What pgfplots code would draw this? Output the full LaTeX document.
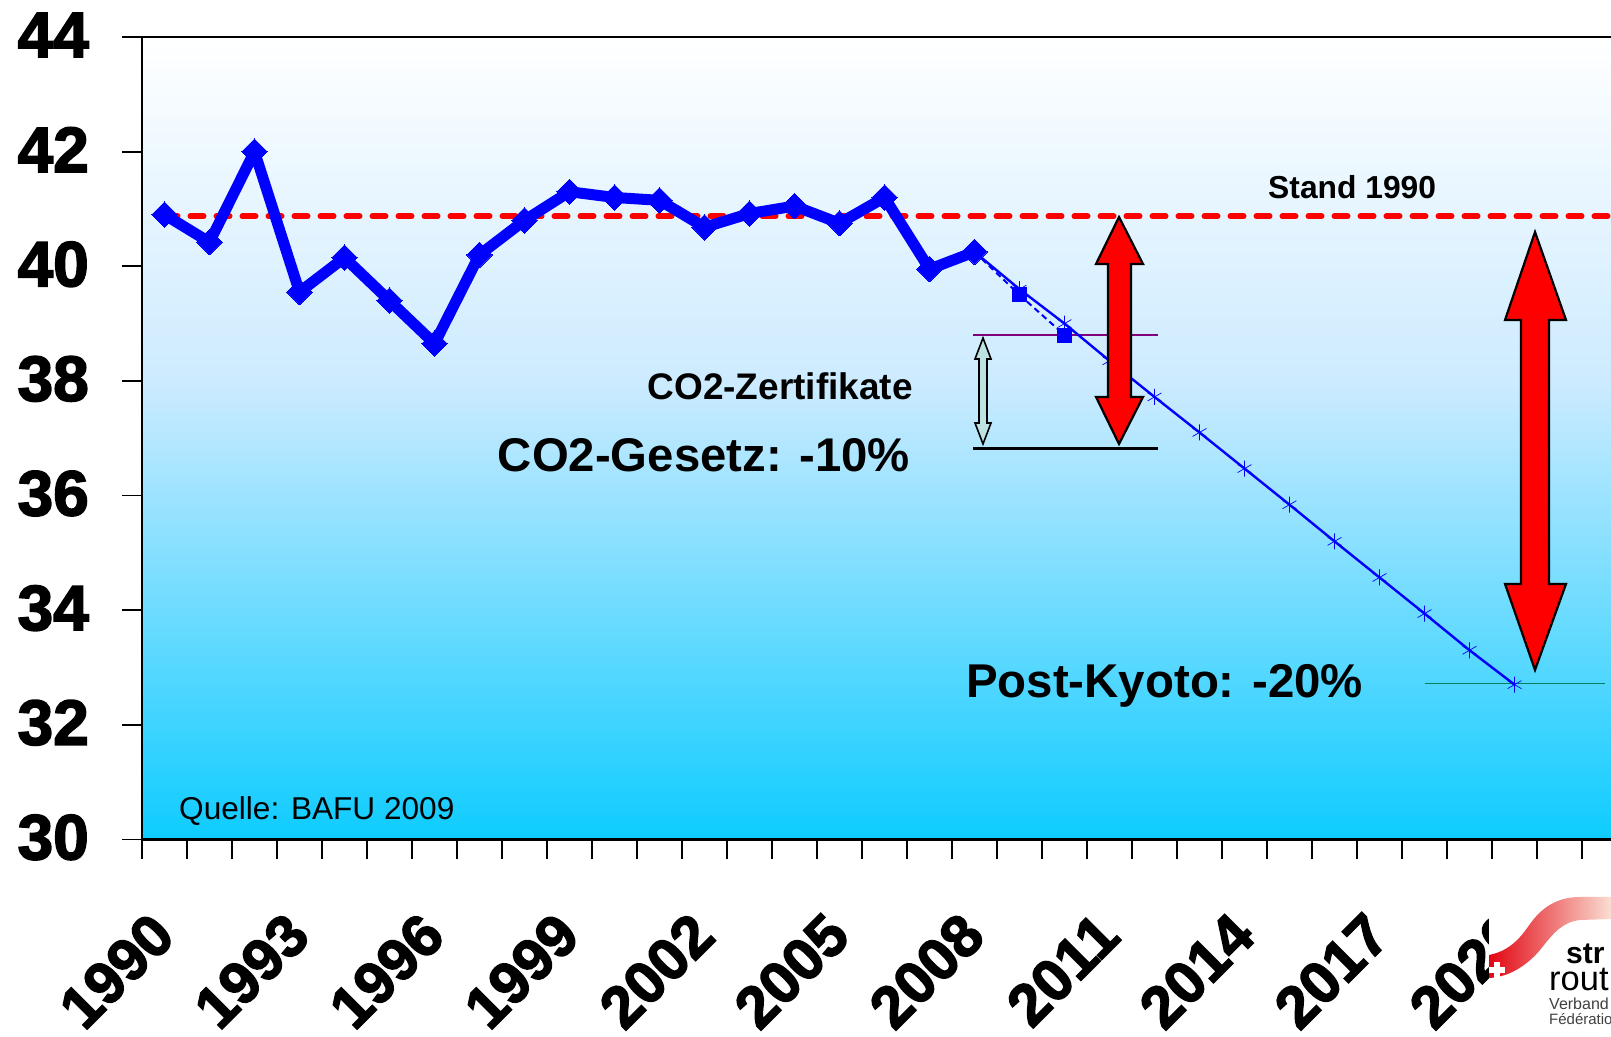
\documentclass[border=0pt]{standalone}
\usepackage{pgfplots}
\pgfplotsset{compat=1.18}
\usepackage{fontspec}
\setmainfont{Liberation Sans}
\newfontfamily\heavy[BoldFeatures={FakeBold=2.5}]{Liberation Sans}
\definecolor{barblue}{RGB}{0,0,255}
\definecolor{bottomcyan}{RGB}{14,204,255}
\definecolor{midblue}{RGB}{205,235,255}
\definecolor{arrowpale}{RGB}{190,225,225}
\definecolor{swoosh}{RGB}{226,6,19}
\definecolor{swooshend}{RGB}{250,222,210}
\definecolor{kyotogreen}{RGB}{0,128,90}
\definecolor{certpurple}{RGB}{128,0,128}
\pgfdeclareverticalshading{skygrad}{100bp}{color(0bp)=(bottomcyan); color(25bp)=(bottomcyan); color(53.6bp)=(midblue); color(75bp)=(white); color(100bp)=(white)}
\begin{document}
\begin{tikzpicture}[x=1pt,y=1pt]
\useasboundingbox (0,0) rectangle (1611,1036);
\clip (0,0) rectangle (1611,1036);
\begin{axis}[
  at={(142pt,196.6pt)}, anchor=south west,
  scale only axis, width=1530pt, height=802.4pt,
  xmin=1989.5, xmax=2023.5, ymin=30, ymax=44,
  axis background/.style={shading=skygrad},
  axis line style={black, line width=2.6pt},
  xtick={1990,1993,1996,1999,2002,2005,2008,2011,2014,2017,2020},
  minor xtick={1989.5,1990.5,...,2023.5},
  ytick={30,32,...,44},
  tick pos=left,
  tick align=outside,
  major tick length=20pt, minor tick length=20pt,
  major x tick style={draw=none},
  tick style={black, line width=1.8pt},
  /pgf/number format/1000 sep={},
  /pgf/number format/assume math mode=true,
  yticklabel style={font=\fontsize{64}{64}\selectfont\heavy\bfseries, inner sep=0pt, xshift=-33pt, yshift=2pt},
  xticklabel style={font=\fontsize{59}{59}\selectfont\heavy\bfseries, inner sep=0pt, rotate=45, anchor=east, xshift=-47pt, yshift=-45pt},
]
\addplot[red, line width=6pt, dash pattern=on 13pt off 13pt, line cap=round, forget plot] coordinates {(1990,40.87) (2023.5,40.87)};
\addplot[certpurple, line width=2.8pt, forget plot] coordinates {(2007.97,38.8) (2012.07,38.8)};
\addplot[black, line width=2.8pt, forget plot] coordinates {(2007.97,36.82) (2012.07,36.82)};
\addplot[kyotogreen, line width=1.4pt, forget plot] coordinates {(2018,32.72) (2022,32.72)};
\addplot[barblue, line width=2pt, dash pattern=on 6pt off 4pt, mark=square*, mark size=6.5pt, mark options={solid}, forget plot] coordinates {
(2009,39.5) (2010,38.8)};
\addplot[barblue, line width=2pt, dash pattern=on 6pt off 4pt, forget plot] coordinates {(2008,40.25) (2009,39.5)};
\addplot[barblue, line width=2.4pt, mark=asterisk, mark size=8pt, mark options={line width=0.7pt}, forget plot] coordinates {
(2008,40.25) (2009,39.6) (2010,39.0) (2011,38.35) (2012,37.72) (2013,37.1) (2014,36.47) (2015,35.84) (2016,35.2) (2017,34.57) (2018,33.94) (2019,33.3) (2020,32.7)};
\addplot[barblue, line width=11pt, line join=round, mark=square*, mark size=9pt, mark options={rotate=45, line width=0pt}, forget plot] coordinates {
(1990,40.9) (1991,40.42) (1992,42.0) (1993,39.55) (1994,40.15) (1995,39.4) (1996,38.65) (1997,40.2) (1998,40.8) (1999,41.3) (2000,41.2) (2001,41.15) (2002,40.68) (2003,40.92) (2004,41.05) (2005,40.75) (2006,41.2) (2007,39.95) (2008,40.25)};
\end{axis}
\begin{scope}[y=-1pt, shift={(0,-1036pt)}, yshift=2072pt]
% double arrows
\draw[black, line width=2.2pt, fill=red, line join=miter] (1119,217)--(1143,264)--(1131,264)--(1131,397)--(1143,397)--(1119,444)--(1096,397)--(1108,397)--(1108,264)--(1096,264)--cycle;
\draw[black, line width=2.2pt, fill=red, line join=miter] (1535,232)--(1566,320)--(1549,320)--(1549,584)--(1566,584)--(1535,670)--(1505,584)--(1521,584)--(1521,320)--(1505,320)--cycle;
\draw[black, line width=1.6pt, fill=arrowpale] (983,338)--(991,359)--(987,359)--(987,423)--(991,423)--(983,444)--(975,423)--(979,423)--(979,359)--(975,359)--cycle;
% texts
\node[anchor=base east, inner sep=0pt, font=\fontsize{37}{37}\selectfont\bfseries] at (913,400) {CO2-Zertifikate};
\node[anchor=base east, inner sep=0pt, font=\fontsize{47.3}{47.3}\selectfont\bfseries] at (910,472) {CO2-Gesetz: -10\%};
\node[anchor=base west, inner sep=0pt, font=\fontsize{47.4}{47.4}\selectfont\bfseries] at (966,698) {Post-Kyoto: -20\%};
\node[anchor=base west, inner sep=0pt, font=\fontsize{31.8}{31.8}\selectfont\bfseries] at (1268,199) {Stand 1990};
\node[anchor=base west, inner sep=0pt, font=\fontsize{31.6}{31.6}\selectfont] at (179,820) {Quelle: BAFU 2009};
% logo
\fill[white] (1489,885) rectangle (1611,1036);
\shade[left color=swoosh, right color=swooshend] (1489,955) .. controls (1515,950) and (1525,930) .. (1533,920) .. controls (1545,905) and (1560,897) .. (1580,897) -- (1611,897) -- (1611,919) -- (1580,920) .. controls (1560,922) and (1550,938) .. (1540,950) .. controls (1530,962) and (1512,977) .. (1489,978) -- cycle;
\fill[white] (1494,962) rectangle (1500,978);
\fill[white] (1489,967) rectangle (1505,973);
\node[anchor=base west, inner sep=0pt, font=\fontsize{30}{30}\selectfont\bfseries] at (1566,963) {str};
\node[anchor=base west, inner sep=0pt, font=\fontsize{34.5}{34.5}\selectfont] at (1549,990) {rout};
\node[anchor=base west, inner sep=0pt, font=\fontsize{16}{16}\selectfont, text=black!75] at (1549,1009) {Verband};
\node[anchor=base west, inner sep=0pt, font=\fontsize{15}{15}\selectfont, text=black!75] at (1549,1024) {Fédération};
\end{scope}
\end{tikzpicture}
\end{document}
